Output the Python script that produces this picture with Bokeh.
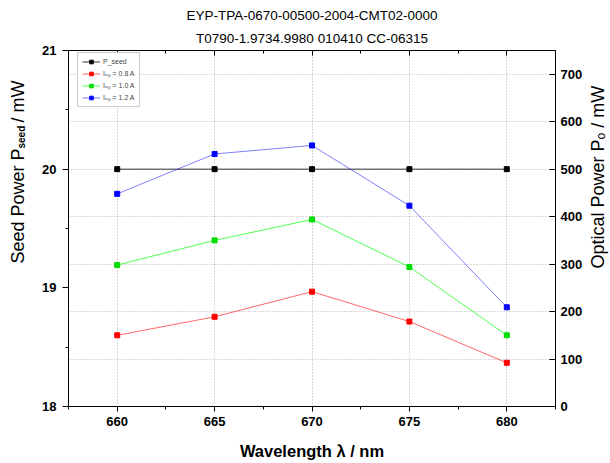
import math
from bokeh.plotting import figure
from bokeh.models import (Range1d, LinearAxis, FixedTicker, Grid, Label, Legend, LegendItem, Title,
                          CustomLabelingPolicy)
from bokeh.embed import file_html
from bokeh.resources import INLINE

# ---- data ----
wavelength = [660, 665, 670, 675, 680]
p_seed = [20.0, 20.0, 20.0, 20.0, 20.0]
pow_08 = [150, 189, 242, 179, 92]
pow_10 = [298, 350, 394, 294, 150]
pow_12 = [448, 532, 550, 423, 209]

x_ticks = [660, 665, 670, 675, 680]
x_minor = [657.5, 662.5, 667.5, 672.5, 677.5, 682.5]
left_ticks = [18, 19, 20, 21]
left_minor = [18.5, 19.5, 20.5]
right_ticks = [0, 100, 200, 300, 400, 500, 600, 700]

title1 = "EYP-TPA-0670-00500-2004-CMT02-0000"
title2 = "T0790-1.9734.9980 010410 CC-06315"

FONT = "Liberation Sans"
W, H = 610, 463
FL, FT, FR, FB = 68, 50, 555, 406  # frame edges on canvas

p = figure(width=W, height=H, output_backend="svg", toolbar_location=None,
           x_range=Range1d(657.5, 682.5), y_range=Range1d(18, 21),
           min_border_left=FL, min_border_right=W - FR,
           min_border_top=FT, min_border_bottom=H - FB,
           title=None)
p.outline_line_color = "black"
p.outline_line_width = 1
p.background_fill_color = "white"
p.border_fill_color = "white"
p.extra_y_ranges = {"op": Range1d(0, 750)}

# axes
xa = p.xaxis[0]
xa.ticker = FixedTicker(ticks=x_ticks, minor_ticks=x_minor)
ya = p.yaxis[0]
ya.ticker = FixedTicker(ticks=left_ticks, minor_ticks=left_minor)
for ax in (xa, ya):
    ax.axis_line_color = "black"
    ax.major_tick_line_color = "black"
    ax.minor_tick_line_color = "black"
    ax.major_label_text_font = FONT
    ax.major_label_text_font_style = "bold"
    ax.major_label_text_font_size = "13px"
    ax.major_label_text_color = "black"
    ax.major_tick_in = 0
    ax.minor_tick_in = 0
xa.major_tick_out = 5
xa.minor_tick_out = 3
xa.major_label_standoff = 5
xa.axis_label = "Wavelength \u03bb / nm"
xa.axis_label_text_font = FONT
xa.axis_label_text_font_style = "bold"
xa.axis_label_text_font_size = "16.5px"
xa.axis_label_text_color = "black"
xa.axis_label_standoff = 13
ya.major_tick_out = 6
ya.minor_tick_out = 3
ya.major_label_standoff = 6
ya.axis_label_standoff = 0

ra = LinearAxis(y_range_name="op", ticker=FixedTicker(ticks=right_ticks, minor_ticks=[]))
ra.axis_line_color = "black"
ra.major_tick_line_color = "black"
ra.major_tick_in = 6
ra.major_tick_out = 0
ra.major_label_standoff = 5
ra.axis_label_standoff = 0
ra.major_label_text_font = FONT
ra.major_label_text_font_style = "bold"
ra.major_label_text_font_size = "13px"
ra.major_label_text_color = "black"
p.add_layout(ra, "right")

# top frame edge: inward ticks only, no labels
ta = LinearAxis(ticker=FixedTicker(ticks=x_ticks, minor_ticks=x_minor))
ta.axis_line_color = "black"
ta.major_tick_in = 5
ta.major_tick_out = 0
ta.minor_tick_in = 3
ta.minor_tick_out = 0
ta.major_label_text_font_size = "0px"
ta.major_label_standoff = 0
ta.axis_label_standoff = 0
ta.major_label_policy = CustomLabelingPolicy(
    code="for (const i of Array.from(indices)) { indices.unset(i) } return indices")
p.add_layout(ta, "above")

for t, so in ((title2, 9), (title1, 4)):
    p.add_layout(Title(text=t, align="center", text_font=FONT, text_font_size="13.5px",
                       text_font_style="normal", text_color="black", standoff=so), "above")

# grids
p.xgrid.ticker = FixedTicker(ticks=x_ticks)
p.xgrid.grid_line_color = "#b0b0b0"
p.xgrid.grid_line_dash = "1 2"
p.ygrid.visible = False
g = Grid(dimension=1, ticker=FixedTicker(ticks=right_ticks[1:]), y_range_name="op",
         grid_line_color="#b0b0b0", grid_line_dash="1 2")
p.add_layout(g)

# series
ls = p.line(wavelength, p_seed, color="#333333", line_width=1)
ms = p.scatter(wavelength, p_seed, marker="square", size=5, color="black")
l1 = p.line(wavelength, pow_08, color="#ff0000", line_width=1, line_alpha=0.6, y_range_name="op")
m1 = p.scatter(wavelength, pow_08, marker="square", size=5, color="#ff0000", y_range_name="op")
l2 = p.line(wavelength, pow_10, color="#00ff00", line_width=1, line_alpha=0.7, y_range_name="op")
m2 = p.scatter(wavelength, pow_10, marker="square", size=5, color="#00dd00", y_range_name="op")
l3 = p.line(wavelength, pow_12, color="#0000ff", line_width=1, line_alpha=0.5, y_range_name="op")
m3 = p.scatter(wavelength, pow_12, marker="square", size=5, color="#0000ff", y_range_name="op")

legend = Legend(items=[
    LegendItem(label="P_seed", renderers=[ls, ms]),
    LegendItem(label="I\u2092\u209a = 0.8 A", renderers=[l1, m1]),
    LegendItem(label="I\u2092\u209a = 1.0 A", renderers=[l2, m2]),
    LegendItem(label="I\u2092\u209a = 1.2 A", renderers=[l3, m3]),
], location=(9, 299))
legend.label_text_font = FONT
legend.label_text_font_size = "7px"
legend.label_height = 9
legend.glyph_height = 9
legend.glyph_width = 18
legend.label_standoff = 3
legend.spacing = 3
legend.padding = 4
legend.margin = 0
legend.border_line_color = "#999999"
legend.border_line_width = 1
legend.background_fill_alpha = 1
p.add_layout(legend)

a = math.pi / 2

def side_label(text, x, y, size, side, style="normal"):
    p.add_layout(Label(x=x, y=y, x_units="screen", y_units="screen", text=text,
                       text_font=FONT, text_font_size=size, text_font_style=style,
                       text_color="black", angle=a, text_align="left",
                       text_baseline="alphabetic"), side)

# left axis title: main text with a gap, subscript in its own small label
side_label("Seed Power P\u2003\u2006 / mW", -2, 143, "18px", "left")
side_label("seed", 13, 258, "10px", "left", style="bold")
# right axis title
side_label("Optical Power P\u2092 / mW", 12, 138, "18px", "right")

open("out.html", "w").write(file_html(p, INLINE))
